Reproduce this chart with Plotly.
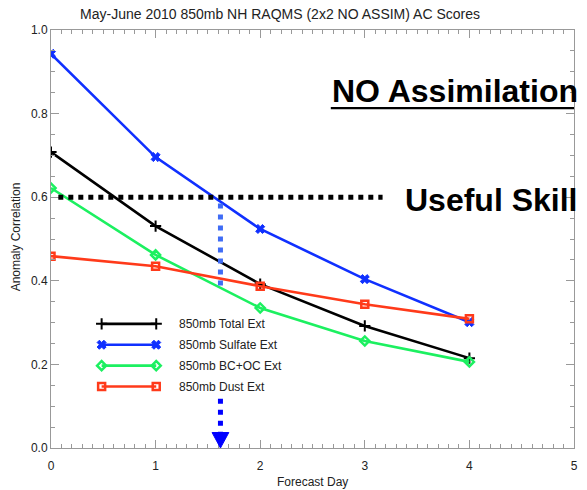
import plotly.graph_objects as go

days = [0, 1, 2, 3, 4]
total_ext = [0.708, 0.531, 0.392, 0.292, 0.215]
sulfate_ext = [0.943, 0.696, 0.524, 0.404, 0.301]
bcoc_ext = [0.622, 0.462, 0.335, 0.256, 0.206]
dust_ext = [0.459, 0.435, 0.387, 0.344, 0.309]
series_names = ["850mb Total Ext", "850mb Sulfate Ext", "850mb BC+OC Ext", "850mb Dust Ext"]
x_ticks = [0, 1, 2, 3, 4, 5]
y_ticks = [0.0, 0.2, 0.4, 0.6, 0.8, 1.0]
useful_skill = 0.6
skill_day = 1.62

FONT = "Liberation Sans, Arial, Helvetica, sans-serif"
styles = [
    dict(color="#000000", symbol="cross-thin", size=8, lw=2),
    dict(color="#1030ff", symbol="x", size=8, lw=1),
    dict(color="#1cf060", symbol="diamond-open", size=7, lw=2.5),
    dict(color="#ff3a1a", symbol="square-open", size=7, lw=2.5),
]
values = [total_ext, sulfate_ext, bcoc_ext, dust_ext]

fig = go.Figure()
for name, vals, st in zip(series_names, values, styles):
    fig.add_trace(go.Scatter(
        x=days, y=vals, mode="lines+markers", name=name,
        line=dict(color=st["color"], width=2.6),
        marker=dict(symbol=st["symbol"], size=st["size"], color=st["color"],
                    line=dict(color=st["color"], width=st["lw"])),
        showlegend=False))

# hand-drawn legend inside plot
leg_x0, leg_x1, leg_tx = 0.484, 1.006, 1.2
leg_y = [0.297, 0.247, 0.197, 0.147]
for name, st, ly in zip(series_names, styles, leg_y):
    fig.add_trace(go.Scatter(
        x=[leg_x0, leg_x1], y=[ly, ly], mode="lines+markers",
        line=dict(color=st["color"], width=2.6),
        marker=dict(symbol=st["symbol"], size=st["size"], color=st["color"],
                    line=dict(color=st["color"], width=st["lw"])),
        showlegend=False, hoverinfo="skip"))
    fig.add_annotation(x=leg_tx, y=ly, xref="x", yref="y", text=name, showarrow=False,
                       xanchor="left", yanchor="middle",
                       font=dict(family=FONT, size=12, color="#222"))

# useful skill line
fig.add_shape(type="line", x0=0.07, x1=3.17, y0=useful_skill, y1=useful_skill, xref="x", yref="y",
              line=dict(color="black", width=5, dash="5px,5px"))
# vertical dotted blue line (upper)
fig.add_shape(type="line", x0=skill_day, x1=skill_day, y0=0.585, y1=0.375, xref="x", yref="y",
              line=dict(color="#3f6cf5", width=5, dash="5px,6px"))
# lower part with arrow
fig.add_shape(type="line", x0=skill_day, x1=skill_day, y0=0.118, y1=0.035, xref="x", yref="y",
              line=dict(color="#0000ff", width=5, dash="5px,6px"))
hw = 0.08
fig.add_shape(type="path", xref="x", yref="y",
              path=f"M {skill_day-hw},0.037 L {skill_day+hw},0.037 L {skill_day},0.0 Z",
              fillcolor="#0000ff", line=dict(color="#0000ff", width=1))

fig.add_annotation(x=1.012, y=0.853, xref="paper", yref="paper", text="<b>NO Assimilation</b>",
                   showarrow=False, xanchor="right", yanchor="middle",
                   font=dict(family=FONT, size=32, color="black"))
fig.add_shape(type="line", x0=0.535, x1=1.0, y0=0.813, y1=0.813, xref="paper", yref="paper",
              line=dict(color="black", width=2.2))
fig.add_annotation(x=1.012, y=0.593, xref="paper", yref="paper", text="<b>Useful Skill</b>",
                   showarrow=False, xanchor="right", yanchor="middle",
                   font=dict(family=FONT, size=32, color="black"))

fig.add_annotation(x=0.5, y=-0.061, xref="paper", yref="paper", text="Forecast Day",
                   showarrow=False, xanchor="center", yanchor="top",
                   font=dict(family=FONT, size=12, color="#222"))
fig.add_annotation(x=-0.068, y=0.505, xref="paper", yref="paper", text="Anomaly Correlation",
                   showarrow=False, textangle=-90, xanchor="center", yanchor="middle",
                   font=dict(family=FONT, size=12, color="#222"))

axis_common = dict(showline=True, linecolor="#999", linewidth=1, mirror="ticks",
                   ticks="inside", tickcolor="#999", showgrid=False, zeroline=False,
                   tickfont=dict(family=FONT, size=12, color="#222"))
fig.update_xaxes(range=[0, 5], tickvals=x_ticks, ticklen=8, ticklabelstandoff=7,
                 minor=dict(dtick=0.1, ticklen=4, ticks="inside", tickcolor="#999", showgrid=False),
                 **axis_common)
fig.update_yaxes(range=[0, 1.0], tickvals=y_ticks, tickformat=".1f", ticklen=8,
                 minor=dict(dtick=0.05, ticklen=4, ticks="inside", tickcolor="#999", showgrid=False),
                 **axis_common)

fig.update_layout(
    width=587, height=490,
    margin=dict(l=51, r=9, t=30, b=42),
    paper_bgcolor="white", plot_bgcolor="white",
    title=dict(text="May-June 2010 850mb NH RAQMS (2x2 NO ASSIM) AC Scores",
               x=280 / 587, xanchor="center", y=1 - 14 / 490, yanchor="middle",
               font=dict(family=FONT, size=14, color="#222")),
)
fig.write_html("out.html")
